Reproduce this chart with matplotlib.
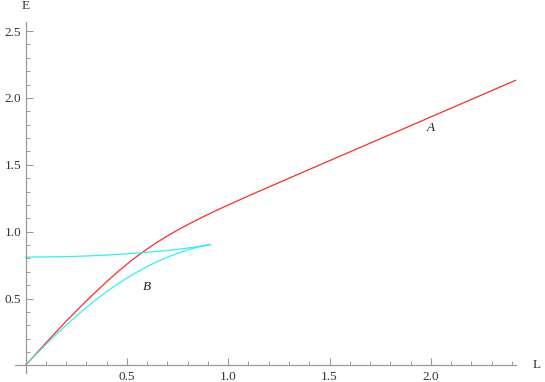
import matplotlib
matplotlib.use("Agg")
import matplotlib.pyplot as plt
from matplotlib.ticker import MultipleLocator

plt.rcParams["font.family"] = ["Liberation Serif", "DejaVu Serif"]

# curve A (red)
L_a = [0, 0.1, 0.2, 0.3, 0.4, 0.45, 0.5, 0.55, 0.6, 0.65, 0.7, 0.75, 0.8, 0.85, 0.9,
       0.95, 1.0, 1.1, 1.2, 1.4, 1.6, 1.8, 2.0, 2.2, 2.42]
E_a = [0, 0.1675, 0.329, 0.4825, 0.626, 0.693, 0.7567, 0.816, 0.8707, 0.9212, 0.968,
       1.0115, 1.0524, 1.0913, 1.1286, 1.1645, 1.1994, 1.2674, 1.3339, 1.465, 1.596,
       1.727, 1.858, 1.989, 2.133]

# curve B (cyan): lower branch out to the cusp, then upper branch back
L_b_low = [0, 0.05, 0.1, 0.15, 0.2, 0.25, 0.3, 0.35, 0.4, 0.45, 0.5, 0.55, 0.6, 0.65,
           0.7, 0.75, 0.8, 0.85, 0.914]
E_b_low = [0, 0.0788, 0.155, 0.2288, 0.30, 0.368, 0.433, 0.494, 0.551, 0.604, 0.653,
           0.698, 0.739, 0.776, 0.809, 0.838, 0.863, 0.884, 0.904]
L_b_up = [0.914, 0.8, 0.7, 0.6, 0.5, 0.4, 0.3, 0.2, 0.1, 0]
E_b_up = [0.904, 0.877, 0.859, 0.846, 0.834, 0.825, 0.818, 0.813, 0.811, 0.81]

x_ticks = [0.5, 1.0, 1.5, 2.0]
y_ticks = [0.5, 1.0, 1.5, 2.0, 2.5]

axcol = "#999999"
txtcol = "#333333"

fig = plt.figure(figsize=(5.45, 3.82), dpi=100)
ax = fig.add_axes([15 / 545, 9 / 382, 501 / 545, 351.3 / 382])

ax.plot(L_a, E_a, color="#ff2a2a", lw=0.9)
ax.plot(L_b_low + L_b_up, E_b_low + E_b_up, color="#33f0f0", lw=0.9)

ax.set_xlim(-0.052, 2.42)
ax.set_ylim(-0.057, 2.57)

for s in ["top", "right"]:
    ax.spines[s].set_visible(False)
ax.spines["left"].set_position(("data", 0))
ax.spines["bottom"].set_position(("data", 0))
for s in ["left", "bottom"]:
    ax.spines[s].set_color(axcol)
    ax.spines[s].set_linewidth(0.9)

ax.set_xticks(x_ticks)
ax.set_yticks(y_ticks)
ax.set_xticklabels([f"{v:.1f}" for v in x_ticks])
ax.set_yticklabels([f"{v:.1f}" for v in y_ticks])
ax.xaxis.set_minor_locator(MultipleLocator(0.1))
ax.yaxis.set_minor_locator(MultipleLocator(0.1))
ax.tick_params(which="major", direction="in", length=5, width=0.8, color=axcol,
               labelsize=9.5, labelcolor=txtcol)
ax.tick_params(which="minor", direction="in", length=3, width=0.7, color=axcol)
ax.tick_params(axis="x", pad=4)
ax.tick_params(axis="y", pad=3)

ax.text(0, 2.57 + 0.07, "E", ha="center", va="bottom", fontsize=9.5,
        color=txtcol, clip_on=False)
ax.text(2.42 + 0.08, 0, "L", ha="left", va="center", fontsize=9.5,
        color=txtcol, clip_on=False)

ax.text(2.0, 1.775, "A", ha="center", va="center", style="italic",
        fontsize=9.5, color="#222222")
ax.text(0.6, 0.586, "B", ha="center", va="center", style="italic",
        fontsize=9.5, color="#222222")

fig.savefig("out.png", dpi=100)
